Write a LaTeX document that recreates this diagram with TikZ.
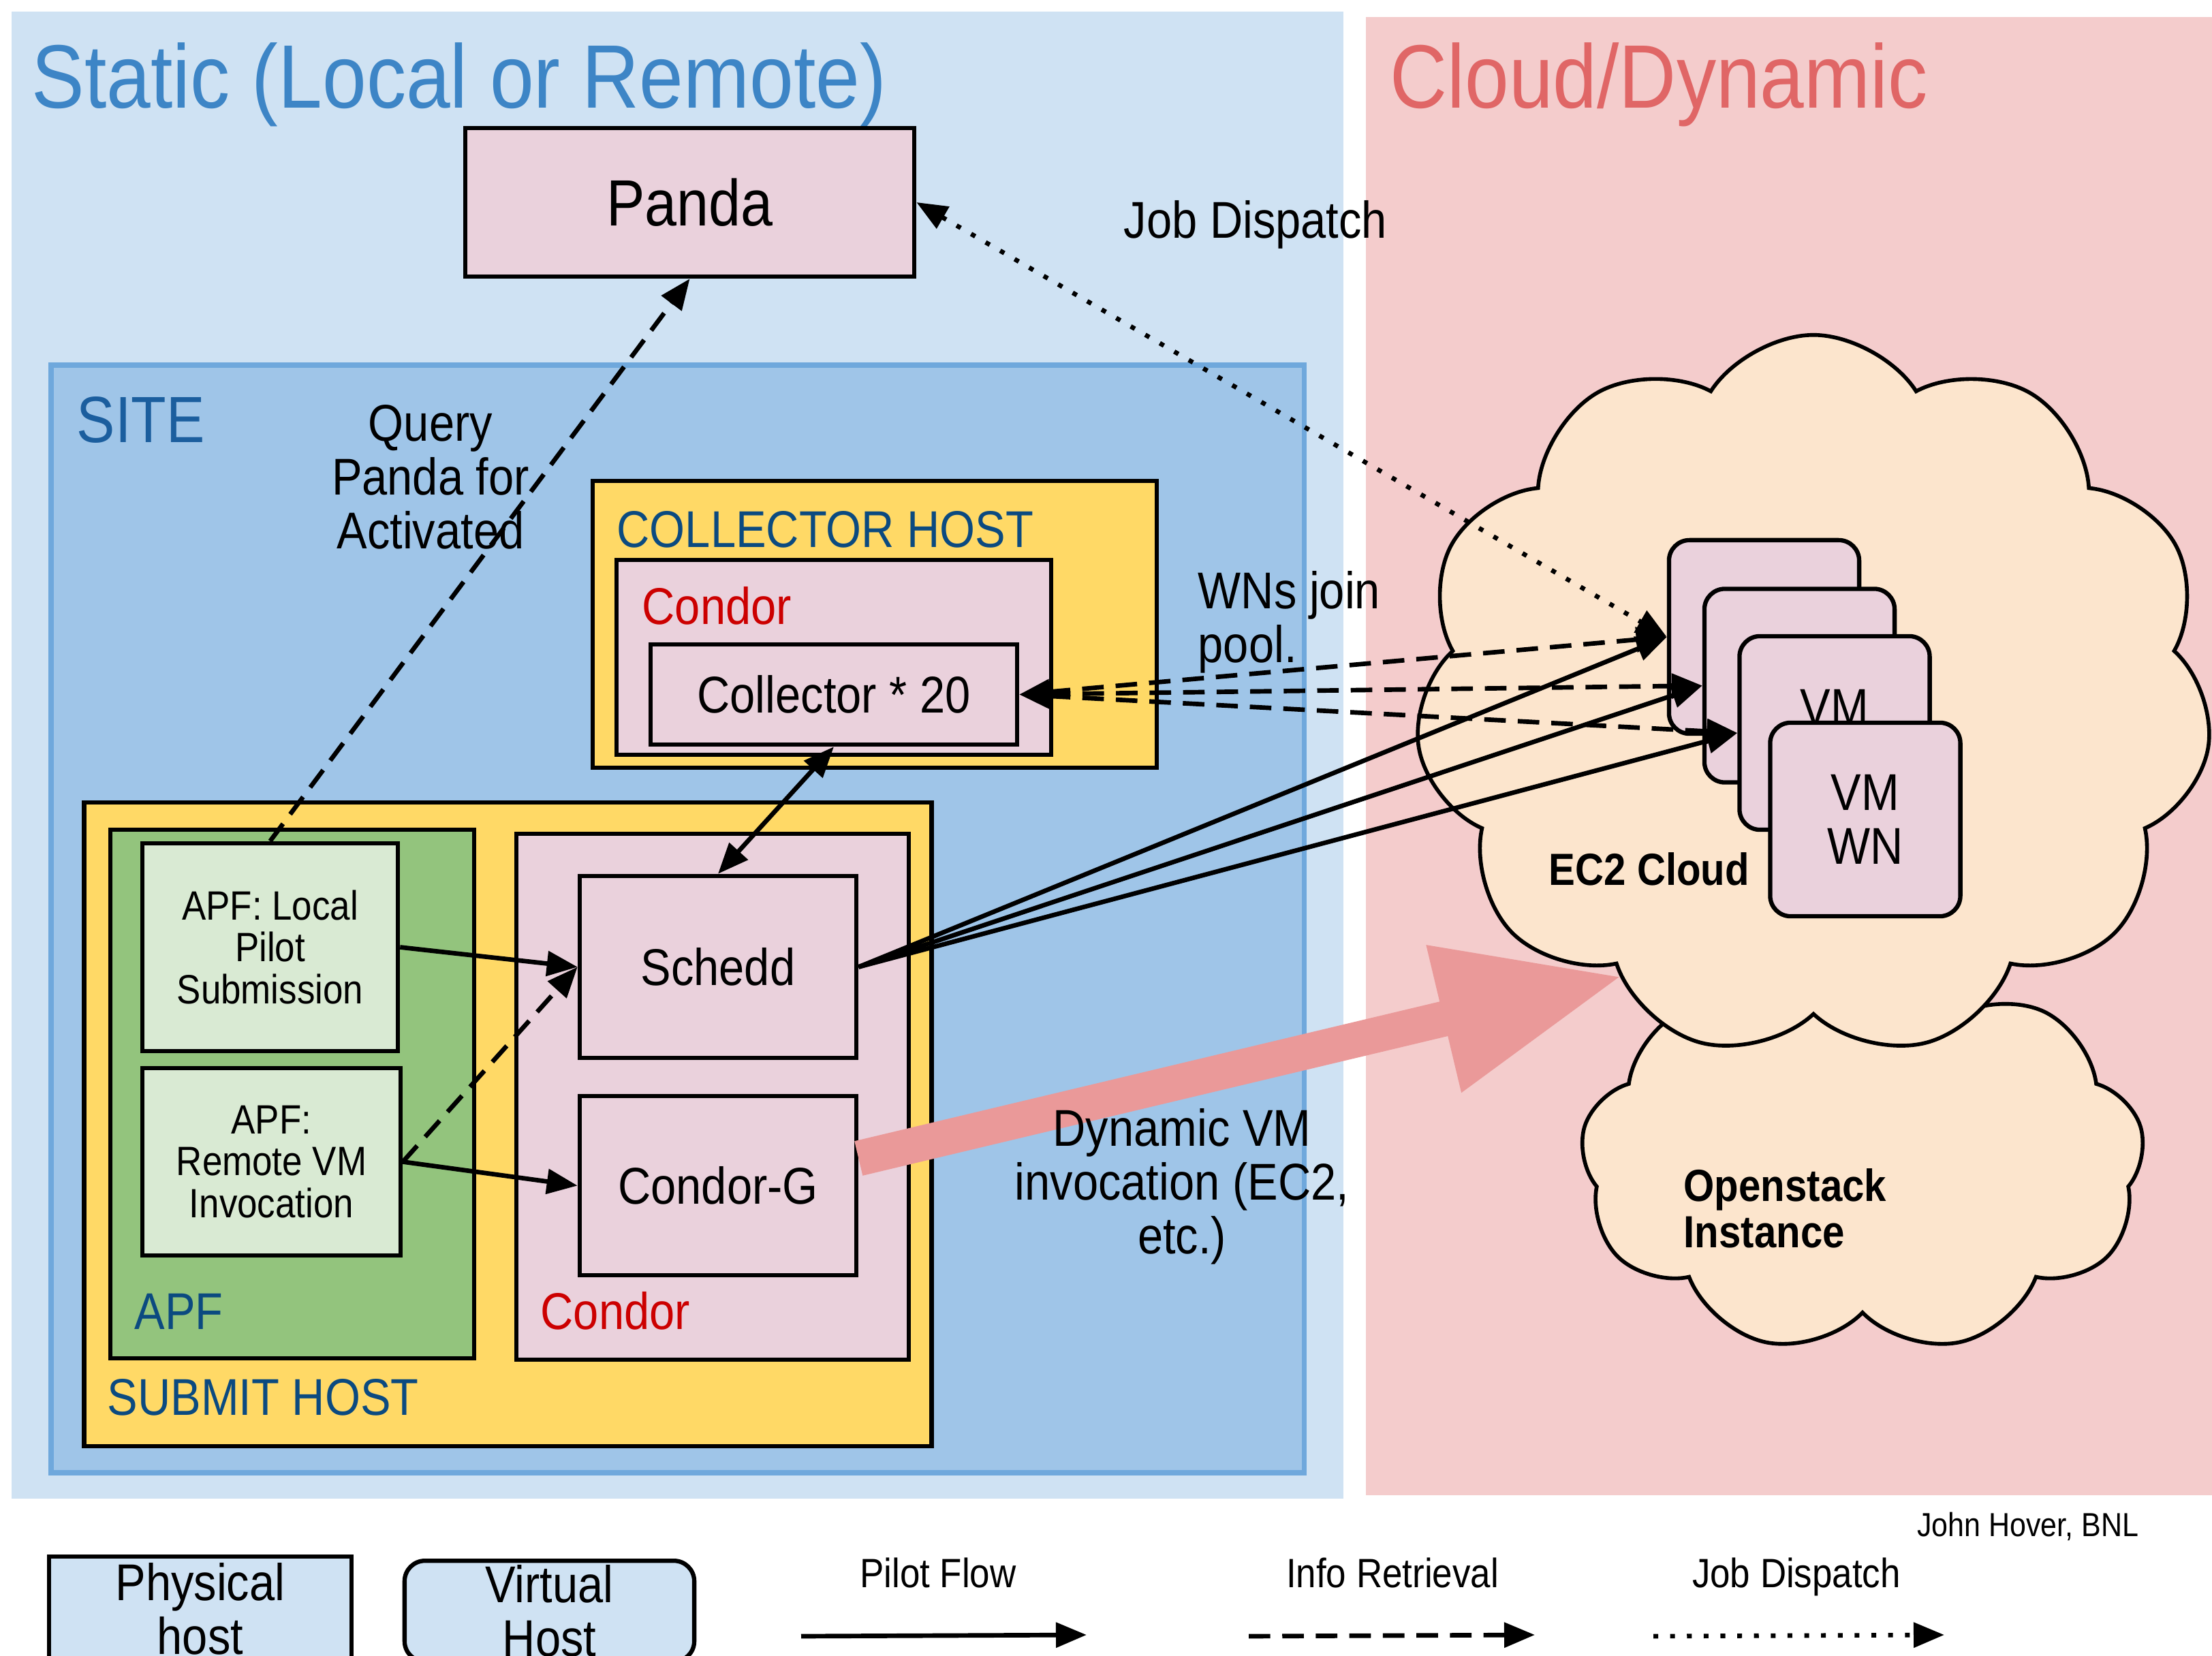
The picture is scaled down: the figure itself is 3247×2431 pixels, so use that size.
\documentclass[tikz,border=0pt]{standalone}
\usepackage{fontspec}
\setmainfont[FakeStretch=0.88]{Liberation Sans}
\usetikzlibrary{arrows.meta,shapes.symbols,calc}
\definecolor{staticbg}{HTML}{CFE2F3}
\definecolor{cloudbg}{HTML}{F4CCCC}
\definecolor{sitebg}{HTML}{9FC5E8}
\definecolor{siteedge}{HTML}{6FA8DC}
\definecolor{hostyellow}{HTML}{FFD966}
\definecolor{boxpink}{HTML}{EAD1DC}
\definecolor{apfgreen}{HTML}{93C47D}
\definecolor{apflight}{HTML}{D9EAD3}
\definecolor{cloudfill}{HTML}{FCE5CD}
\definecolor{bigarrow}{HTML}{EA9999}
\definecolor{titleblue}{HTML}{3D85C6}
\definecolor{titlered}{HTML}{E06666}
\definecolor{labelblue}{HTML}{0B4A80}
\definecolor{sitelabel}{HTML}{1B5E9E}
\definecolor{condorred}{HTML}{CC0000}
\newcommand\fTitle{\fontsize{37.6pt}{40pt}\selectfont}
\newcommand\fBig{\fontsize{27.3pt}{29pt}\selectfont}
\newcommand\fMain{\fontsize{21.6pt}{22.5pt}\selectfont}
\newcommand\fCloud{\fontsize{18.8pt}{19.4pt}\selectfont\bfseries}
\newcommand\fSmall{\fontsize{17.1pt}{17.6pt}\selectfont}
\newcommand\fTiny{\fontsize{13.9pt}{15pt}\selectfont}
\begin{document}
\begin{tikzpicture}[x=0.01cm,y=-0.01cm,
  >={Triangle[length=0.45cm,width=0.36cm]},
  box/.style={draw=black,line width=1.8pt,fill=boxpink,inner sep=0pt,align=center,font=\fMain},
  hostbox/.style={box,fill=hostyellow},
  greenbox/.style={box,fill=apfgreen},
  apfbox/.style={box,fill=apflight,font=\fSmall},
  vmbox/.style={box,rounded corners=0.3cm,minimum width=2.79cm,minimum height=2.84cm},
  lbl/.style={anchor=base west,inner sep=0pt,font=\fMain},
  txt/.style={inner sep=0pt,align=center,font=\fMain},
  conn/.style={line width=1.9pt},
  infoline/.style={conn,dash pattern=on 9pt off 5pt},
  jobline/.style={conn,dash pattern=on 2pt off 5pt},
  cloudshape/.style={cloud,draw=black,line width=1.6pt,fill=cloudfill,cloud puff arc=115}]
\useasboundingbox (0,0) rectangle (3247,2431);
\clip (0,0) rectangle (3247,2431);
\fill[white] (0,0) rectangle (3247,2431);
% panels
\fill[staticbg] (17,17) rectangle (1972,2200);
\fill[cloudbg] (2005,25) rectangle (3247,2195);
\node[lbl,font=\fTitle,text=titleblue] (ttlstatic) at (46,159) {Static (Local or Remote)};
\node[lbl,font=\fTitle,text=titlered] (ttlcloud) at (2040,159) {Cloud/Dynamic};
% site
\draw[fill=sitebg,draw=siteedge,line width=2pt] (75,536) rectangle (1914,2162);
\node[lbl,font=\fBig,text=sitelabel] (sitelbl) at (112,650) {SITE};
% panda
\node[box,font=\fBig,minimum width=6.59cm,minimum height=2.18cm] (panda) at (1012.5,297) {Panda};
% collector host
\node[hostbox,minimum width=8.28cm,minimum height=4.21cm] (chost) at (1284,916.5) {};
\node[lbl,text=labelblue] (chostlbl) at (905,804) {COLLECTOR HOST};
\node[box,minimum width=6.38cm,minimum height=2.86cm] (ccondor) at (1224,965) {};
\node[lbl,text=condorred] (ccondorlbl) at (942,917) {Condor};
\node[box,minimum width=5.38cm,minimum height=1.47cm] (collector) at (1224,1019.5) {Collector * 20};
% submit host
\node[hostbox,minimum width=12.43cm,minimum height=9.45cm] (shost) at (745.5,1650.5) {};
\node[lbl,text=labelblue] (shostlbl) at (157,2077) {SUBMIT HOST};
\node[greenbox,minimum width=5.34cm,minimum height=7.76cm] (apf) at (429,1606) {};
\node[lbl,text=labelblue] (apflbl) at (197,1951) {APF};
\node[apfbox,minimum width=3.75cm,minimum height=3.05cm] (apfl) at (396.5,1390.5) {APF: Local\\Pilot\\Submission};
\node[apfbox,minimum width=3.79cm,minimum height=2.75cm] (apfr) at (398.5,1705.5) {APF:\\Remote VM\\Invocation};
\node[box,minimum width=5.76cm,minimum height=7.72cm] (scondor) at (1046,1610) {};
\node[lbl,text=condorred] (scondorlbl) at (793,1951) {Condor};
\node[box,minimum width=4.06cm,minimum height=2.67cm] (schedd) at (1054,1419.5) {Schedd};
\node[box,minimum width=4.06cm,minimum height=2.63cm] (condorg) at (1054,1740.5) {Condor-G};
% clouds
\node[cloudshape,cloud puffs=9,aspect=1.45,minimum width=8.28cm,minimum height=5.69cm] (openstack) at (2734,1703) {};
\node[cloudshape,cloud puffs=11,aspect=1.1,minimum width=11.7cm,minimum height=10.6cm] (ec2) at (2662,1022) {};
\node[txt,font=\fCloud] (ec2lbl) at (2421,1276) {EC2 Cloud};
\node[txt,font=\fCloud,align=left,anchor=west] (oslbl) at (2471,1774) {Openstack\\Instance};
% VMs
\node[vmbox] (vm1) at (2589.5,935) {};
\node[vmbox] (vm2) at (2641.5,1006.5) {};
\node[vmbox] (vm3) at (2693,1076) {};
\node[txt] (vm3lbl) at ($(vm3)+(0,-38)$) {VM};
\node[vmbox] (vm4) at (2738,1203) {VM\\WN};
% big pink arrow
\coordinate (pinktip) at (2382,1433);
\draw[bigarrow,line width=0.52cm,-{Triangle[length=2.7cm,width=2.07cm]}] ($(condorg.east)+(0,-40)$) -- (pinktip);
% connectors
\draw[infoline,->] (apfl.north) -- (panda.south);
\draw[jobline,<->] (panda.east) -- (vm1.west);
\draw[conn,<->] (collector.south) -- (schedd.north);
\draw[conn,->] (apfl.east) -- (schedd.west);
\draw[conn,->] (apfr.east) -- (condorg.west);
\draw[infoline,->] (apfr.east) -- (schedd.west);
\draw[infoline,<->] (collector.east) -- (vm1.west);
\draw[infoline,<->] (collector.east) -- (vm2.west);
\draw[infoline,<->] (collector.east) -- (vm3.west);
\draw[conn,->] (schedd.east) -- (vm1.west);
\draw[conn,->] (schedd.east) -- (vm2.west);
\draw[conn,->] (schedd.east) -- (vm3.west);
% labels
\node[txt] (qlbl) at (632,700) {Query\\Panda for\\Activated};
\node[txt,anchor=base] (jdlbl) at (1843,350) {Job Dispatch};
\node[txt,align=left,anchor=west] (wnlbl) at (1758,913) {WNs join\\pool.};
\node[txt] (dynlbl) at (1735,1742) {Dynamic VM\\invocation (EC2,\\etc.)};
% legend
\node[txt,font=\fTiny,anchor=east] (author) at (3140,2241) {John Hover, BNL};
\node[box,fill=staticbg,minimum width=4.44cm,minimum height=1.54cm,anchor=north] (physical) at (294,2282) {Physical\\host};
\node[box,fill=staticbg,rounded corners=0.3cm,minimum width=4.25cm,minimum height=1.48cm,anchor=north] (virtual) at (806.5,2288) {Virtual\\Host};
\node[txt,font=\fSmall,anchor=base] (pflbl) at (1377,2330) {Pilot Flow};
\node[txt,font=\fSmall,anchor=base] (irlbl) at (2044,2330) {Info Retrieval};
\node[txt,font=\fSmall,anchor=base] (jdleg) at (2637,2330) {Job Dispatch};
\coordinate (pfa) at (1176,2402); \coordinate (pfb) at (1595,2400);
\coordinate (ira) at (1833,2402); \coordinate (irb) at (2253,2400);
\coordinate (jda) at (2427,2402); \coordinate (jdb) at (2854,2400);
\draw[conn,->] (pfa) -- (pfb);
\draw[infoline,->] (ira) -- (irb);
\draw[jobline,->] (jda) -- (jdb);
\end{tikzpicture}
\end{document}
